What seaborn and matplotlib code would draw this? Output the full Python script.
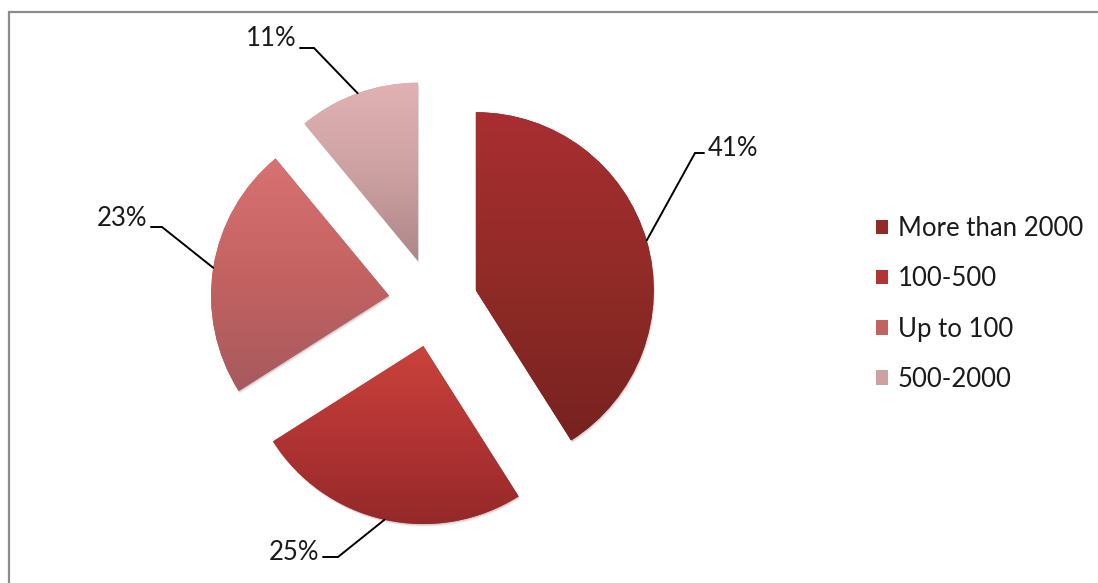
import numpy as np
import matplotlib
matplotlib.use("Agg")
import matplotlib.pyplot as plt
from matplotlib.colors import LinearSegmentedColormap
from matplotlib.patches import Wedge
import seaborn as sns

# Data
categories = ["More than 2000", "100-500", "Up to 100", "500-2000"]
shares = [41, 25, 23, 11]

# Gradient colours per slice: top, middle, bottom
top_colors = ["#A92E32", "#CA433B", "#D97272", "#E2B2B3"]
mid_colors = ["#912B27", "#B23434", "#C46262", "#CDA1A2"]
bottom_colors = ["#772220", "#952829", "#A65A5E", "#AE8788"]

sns.set_theme(style="white")
plt.rcParams["font.family"] = ["Lato", "DejaVu Sans"]

W, H = 1098, 583
fig = plt.figure(figsize=(W / 100, H / 100), dpi=100)
ax = fig.add_axes([0, 0, 1, 1])


def px(x, y_top):
    """Convert pixel position measured from the top into axes data coords."""
    return x, H - y_top


center = px(433, 302.6)
radius = 178
explode = 0.25 * radius  # matplotlib applies explode as an absolute offset

wedges, _ = ax.pie(
    shares,
    colors=mid_colors,
    explode=[explode] * len(shares),
    startangle=90,
    counterclock=False,
    radius=radius,
    center=center,
    frame=True,
    wedgeprops=dict(linewidth=0, edgecolor="none"),
)

# Soft drop shadow and vertical gradient fill for each wedge
for w, ct, cm, cb in zip(wedges, top_colors, mid_colors, bottom_colors):
    cx, cy = w.center
    t = np.radians(np.linspace(w.theta1, w.theta2, 200))
    xs = np.concatenate([[cx], cx + w.r * np.cos(t)])
    ys = np.concatenate([[cy], cy + w.r * np.sin(t)])
    x0, x1, y0, y1 = xs.min(), xs.max(), ys.min(), ys.max()

    for k, a in [(3.0, 0.06), (2.0, 0.10), (1.2, 0.15)]:
        sh = Wedge((cx + k * 0.5, cy - k), w.r, w.theta1, w.theta2,
                   facecolor="#555555", edgecolor="none", alpha=a, zorder=0.5)
        ax.add_patch(sh)

    cmap = LinearSegmentedColormap.from_list("g", [cb, cm, ct])
    grad = np.linspace(0, 1, 256).reshape(-1, 1)
    im = ax.imshow(grad, cmap=cmap, extent=[x0, x1, y0, y1], origin="lower",
                   aspect="auto", interpolation="bilinear", zorder=1.5)
    im.set_clip_path(w)
    w.set_zorder(1)

# Percentage labels with leader lines (same order as the slices)
label_pos = [(708, 148, "left"), (319, 552, "right"), (147, 219, "right"), (296, 38, "right")]
elbows = [(695, 153), (338, 557), (162, 227), (314, 48)]
for w, v, (lx, ly, ha), (ex, ey) in zip(wedges, shares, label_pos, elbows):
    mid = np.radians((w.theta1 + w.theta2) / 2)
    ax_, ay_ = w.center[0] + w.r * np.cos(mid), w.center[1] + w.r * np.sin(mid)
    hx = lx - 4 if ha == "left" else lx + 4
    ex_, ey_ = px(ex, ey)
    hx_, hy_ = px(hx, ey)
    ax.plot([ax_, ex_, hx_], [ay_, ey_, hy_], color="black", lw=1.4,
            solid_joinstyle="miter", zorder=2)
    tx, ty = px(lx, ly)
    ax.text(tx, ty, f"{v}%", ha=ha, va="center", fontsize=18.5, color="#1a1a1a")

# Chart-area frame
fx, fy = px(8.5, 12)
ax.plot([fx, fx, W + 5], [-5, fy, fy], color="#8c8c8c", lw=1.6,
        solid_joinstyle="miter", clip_on=False, zorder=3)

leg = ax.legend(
    wedges, categories,
    loc="center left", bbox_to_anchor=(876 / W, 1 - 304 / H),
    frameon=False, fontsize=18.5, handlelength=0.48, handleheight=0.48,
    handletextpad=0.36, labelspacing=0.98, borderpad=0, borderaxespad=0,
)
for t in leg.get_texts():
    t.set_color("#1a1a1a")

ax.set_xlim(0, W)
ax.set_ylim(0, H)
ax.set_aspect("equal")
ax.axis("off")

fig.savefig("out.png", dpi=100)
